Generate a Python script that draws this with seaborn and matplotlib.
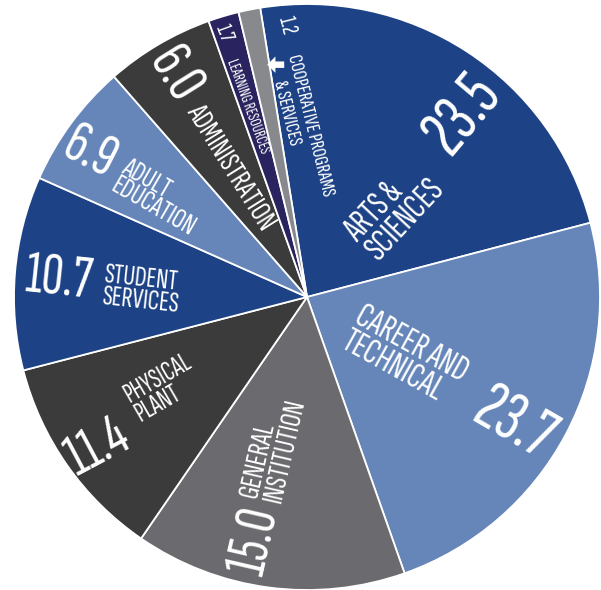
import numpy as np
import matplotlib
matplotlib.use("Agg")
import matplotlib.pyplot as plt
import seaborn as sns

# Budget shares (percent), clockwise from the top
categories = ["Arts & Sciences", "Career and Technical", "General Institution",
              "Physical Plant", "Student Services", "Adult Education",
              "Administration", "Learning Resources", "Cooperative Programs & Services"]
values = [23.5, 23.7, 15.0, 11.4, 10.7, 6.9, 6.0, 1.7, 1.2]
value_labels = ["23.5", "23.7", "15.0", "11.4", "10.7", "6.9", "6.0", "1.7", "1.2"]
name_labels = ["ARTS &\nSCIENCES", "CAREER AND\nTECHNICAL", "GENERAL\nINSTITUTION",
               "PHYSICAL\nPLANT", "STUDENT\nSERVICES", "ADULT\nEDUCATION",
               "ADMINISTRATION", "LEARNING RESOURCES", "COOPERATIVE PROGRAMS"]

DARK_BLUE = "#1d4386"
LIGHT_BLUE = "#6686b9"
MID_GRAY = "#6b6b6f"
DARK_GRAY = "#3b3b3b"
NAVY = "#29245f"
LIGHT_GRAY = "#88898d"
slice_colors = [DARK_BLUE, LIGHT_BLUE, MID_GRAY, DARK_GRAY, DARK_BLUE,
                LIGHT_BLUE, DARK_GRAY, NAVY, LIGHT_GRAY]

sns.set_theme(style="white")
FONT = ["Sofia Sans Extra Condensed", "DejaVu Sans"]
plt.rcParams["font.family"] = FONT

fig = plt.figure(figsize=(6.01, 5.90), dpi=100)
ax = fig.add_axes([0, 0, 1, 1])
ax.pie(values, colors=sns.color_palette(slice_colors), startangle=99.2,
       counterclock=False, radius=1.0,
       wedgeprops=dict(edgecolor="white", linewidth=1.3, antialiased=True))
ax.set_xlim(-1.0478, 1.0034)
ax.set_ylim(-1.0, 1.0137)
ax.set_aspect("equal")
ax.axis("off")


def polar(r, theta):
    t = np.deg2rad(theta)
    return r * np.cos(t), r * np.sin(t)


def put(text, r, theta, rot, size):
    x, y = polar(r, theta)
    ax.text(x, y, text, rotation=rot, rotation_mode="anchor", ha="center",
            va="center", color="white", fontsize=size, linespacing=0.88,
            multialignment="left")


# (radius, angle, rotation, size) for value and name of each slice
value_layout = [(0.82, 49.4, 50, 51), (0.83, -31.6, -30, 51), (0.85, -102.3, 77, 43),
                (0.88, -144.3, 28, 43), (0.85, 175.9, -6, 43), (0.89, 146.4, -27, 43),
                (0.88, 120.8, -58, 43), (0.945, 107.6, -70, 16), (0.93, 94.2, -76, 17)]
name_layout = [(0.42, 44.7, 47, 26), (0.39, -31.5, -29, 26), (0.53, -102.5, 77, 22),
               (0.58, -147.5, 30, 20), (0.567, 177.6, -6, 21), (0.61, 146.4, -30, 21),
               (0.515, 120.6, -58, 22), (0.68, 107.2, -70, 11.5), (0.587, 89.0, -76, 15)]

for txt, (r, th, rot, s) in zip(value_labels, value_layout):
    put(txt, r, th, rot, s)
for txt, (r, th, rot, s) in zip(name_labels, name_layout):
    put(txt, r, th, rot, s)

# second line of the cooperative label, set after a pointer to its thin slice
put("& SERVICES", 0.632, 96.2, -76, 15)
px, py = polar(0.80, 97.6)
ax.arrow(px + 0.028, py, -0.058, 0.0, width=0.022, head_width=0.056,
         head_length=0.028, length_includes_head=True, color="white", lw=0)

fig.savefig("out.png", dpi=100)
